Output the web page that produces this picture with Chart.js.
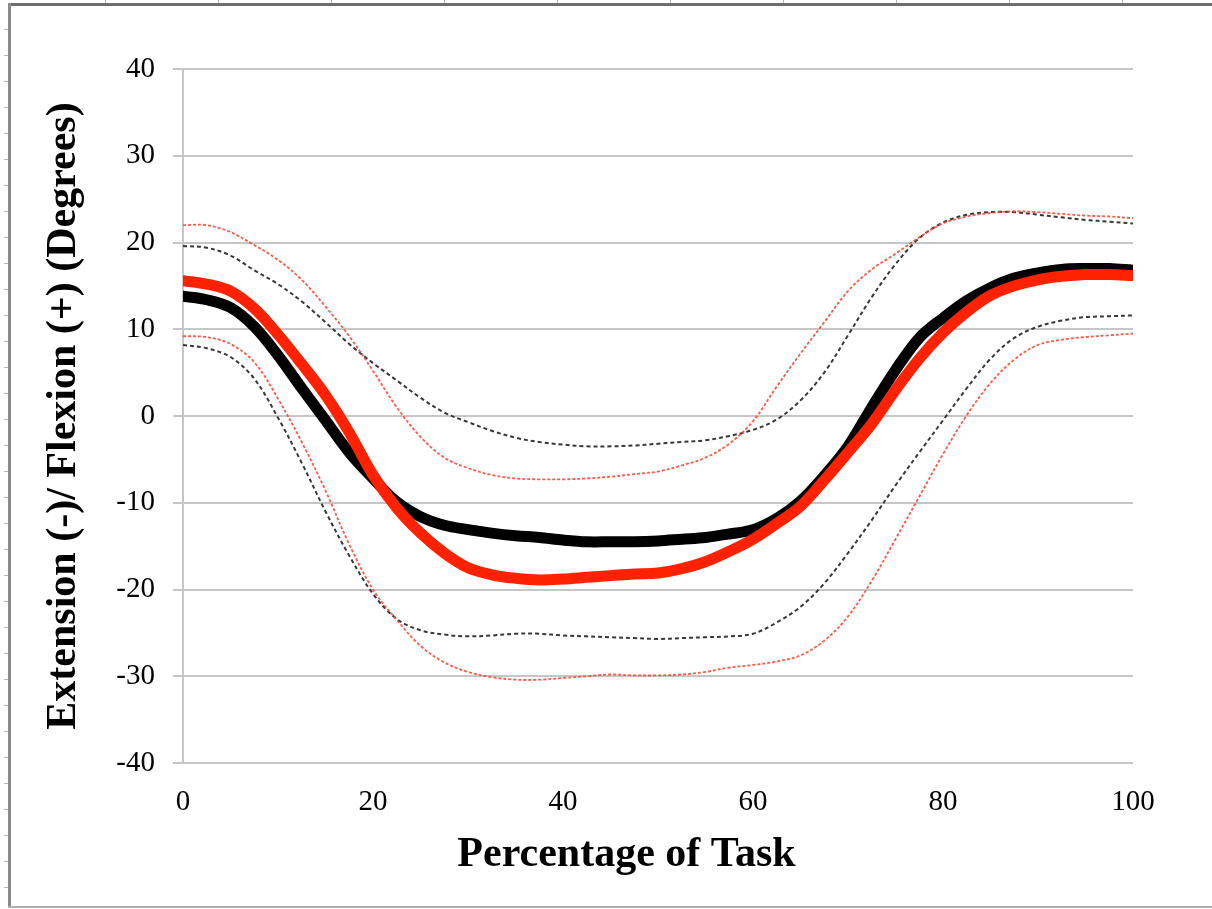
<!DOCTYPE html>
<html>
<head>
<meta charset="utf-8">
<script src="https://cdn.jsdelivr.net/npm/chart.js@4.4.1/dist/chart.umd.min.js"></script>
<style>
  html, body { margin: 0; padding: 0; background: #ffffff; }
  #wrap { width: 1212px; height: 909px; position: relative; }
</style>
</head>
<body>
<div id="wrap"><canvas id="c" width="1212" height="909"></canvas></div>
<script>
// Percentage of task (x values)
const pct = [0,2.5,5,7.5,10,12.5,15,17.5,20,22.5,25,27.5,30,32.5,35,37.5,40,42.5,45,47.5,50,
             52.5,55,57.5,60,62.5,65,67.5,70,72.5,75,77.5,80,82.5,85,87.5,90,92.5,95,97.5,100];

// Mean (black)
const blackMean = [13.8,13.4,12.5,10.3,7.0,3.2,-0.5,-4.2,-7.2,-9.9,-11.6,-12.6,-13.1,-13.5,-13.8,-14.0,-14.3,-14.5,-14.5,-14.5,-14.4,
                   -14.2,-14.0,-13.6,-13.1,-11.8,-9.8,-6.9,-3.5,1.0,5.3,9.0,11.3,13.3,14.8,15.9,16.5,16.9,17.0,17.0,16.8];
// Mean (red)
const redMean = [15.6,15.2,14.4,12.4,9.4,6.0,2.4,-1.9,-6.8,-10.6,-13.5,-15.8,-17.5,-18.3,-18.7,-18.9,-18.8,-18.6,-18.4,-18.2,-18.1,
                 -17.6,-16.8,-15.6,-14.2,-12.4,-10.4,-7.4,-4.2,-0.9,3.0,6.6,9.6,12.0,13.9,15.0,15.7,16.1,16.3,16.3,16.2];
// Upper bound (red dashed)
const redUpper = [22.0,22.0,21.2,19.7,18.0,15.7,12.6,9.2,5.2,1.0,-2.4,-4.8,-6.0,-6.8,-7.2,-7.3,-7.3,-7.2,-7.0,-6.7,-6.4,
                  -5.7,-4.8,-3.2,-0.6,3.4,7.2,10.8,14.4,16.9,18.7,20.6,22.2,23.0,23.4,23.6,23.5,23.3,23.1,23.0,22.8];
// Upper bound (black dashed)
const blackUpper = [19.6,19.4,18.5,16.8,15.2,13.2,10.8,8.3,6.1,4.1,2.1,0.4,-0.7,-1.7,-2.5,-3.0,-3.3,-3.5,-3.5,-3.4,-3.2,
                    -3.0,-2.8,-2.3,-1.6,-0.4,1.8,5.0,9.3,13.7,17.5,20.5,22.3,23.2,23.5,23.5,23.2,22.9,22.6,22.4,22.2];
// Lower bound (red dashed)
const redLower = [9.2,9.1,8.3,6.2,2.0,-3.0,-8.6,-14.8,-20.0,-23.5,-26.5,-28.4,-29.5,-30.1,-30.4,-30.4,-30.2,-30.0,-29.8,-29.9,-29.9,
                  -29.8,-29.5,-29.0,-28.7,-28.3,-27.6,-25.9,-23.1,-19.0,-14.2,-9.3,-4.4,0.1,3.8,6.5,8.2,8.8,9.1,9.3,9.5];
// Lower bound (black dashed)
const blackLower = [8.2,7.8,6.8,4.3,-0.2,-5.4,-11.0,-16.1,-20.5,-23.4,-24.7,-25.2,-25.4,-25.3,-25.1,-25.1,-25.3,-25.4,-25.5,-25.6,-25.7,
                    -25.6,-25.5,-25.4,-25.1,-23.8,-22.0,-19.3,-15.8,-12.0,-8.0,-4.2,-0.5,3.2,6.6,9.0,10.3,11.0,11.4,11.5,11.6];

const xTitle = 'Percentage of Task';
const yTitle = 'Extension (-)/ Flexion (+) (Degrees)';

function pts(arr) { return arr.map((v, i) => ({ x: pct[i], y: v })); }

const frame = {
  id: 'frame',
  afterDraw(chart) {
    const ctx = chart.ctx;
    ctx.save();
    // ruler marks
    ctx.fillStyle = '#b5b5b5';
    for (let y = 29; y < 906; y += 26) ctx.fillRect(4, y, 4, 1);
    for (let x = 105; x < 1212; x += 113) ctx.fillRect(x, 0, 1, 3);
    // frame lines
    ctx.fillStyle = '#6e6e6e';
    ctx.fillRect(8, 3, 1204, 3);
    ctx.fillStyle = '#8a8a8a';
    ctx.fillRect(8, 3, 3, 905);
    ctx.fillStyle = '#b0b0b0';
    ctx.fillRect(8, 906, 1204, 2);
    ctx.restore();
  }
};

const serif = '"Liberation Serif", "Times New Roman", serif';

new Chart(document.getElementById('c'), {
  type: 'line',
  data: {
    datasets: [
      { data: pts(redUpper), borderColor: 'rgba(255,70,50,0.9)', borderWidth: 1.8, borderDash: [3, 2], pointRadius: 0, tension: 0.35, fill: false },
      { data: pts(redLower), borderColor: 'rgba(255,70,50,0.9)', borderWidth: 1.8, borderDash: [3, 2], pointRadius: 0, tension: 0.35, fill: false },
      { data: pts(blackUpper), borderColor: '#383838', borderWidth: 2, borderDash: [4, 3], pointRadius: 0, tension: 0.35, fill: false },
      { data: pts(blackLower), borderColor: '#383838', borderWidth: 2, borderDash: [4, 3], pointRadius: 0, tension: 0.35, fill: false },
      { data: pts(redMean), borderColor: '#ff2200', borderWidth: 11, pointRadius: 0, tension: 0.35, fill: false, borderCapStyle: 'round', borderJoinStyle: 'round' },
      { data: pts(blackMean), borderColor: '#000000', borderWidth: 11, pointRadius: 0, tension: 0.35, fill: false, borderCapStyle: 'round', borderJoinStyle: 'round' }
    ]
  },
  options: {
    responsive: false,
    animation: false,
    devicePixelRatio: 1,
    layout: { padding: { left: 0, top: 69, right: 79, bottom: 0 } },
    plugins: { legend: { display: false }, tooltip: { enabled: false } },
    scales: {
      x: {
        type: 'linear', min: 0, max: 100,
        ticks: { stepSize: 20, padding: 22, color: '#000', font: { family: serif, size: 29 } },
        grid: { display: false, drawTicks: false },
        border: { display: false },
        title: { display: true, text: xTitle + '\u00A0\u00A0\u00A0\u00A0\u00A0\u00A0', color: '#000', font: { family: serif, size: 42, weight: 'bold' }, padding: { top: 0, bottom: 29 } },
        afterFit(s) { s.height = 146; }
      },
      y: {
        type: 'linear', min: -40, max: 40,
        ticks: { stepSize: 10, padding: 18, color: '#000', font: { family: serif, size: 29 } },
        grid: { color: '#c6c6c6', lineWidth: 2, drawTicks: true, tickLength: 10 },
        border: { display: true, color: '#c6c6c6', width: 2 },
        title: { display: true, text: yTitle, color: '#000', font: { family: serif, size: 42, weight: 'bold' }, padding: { top: 39, bottom: 0 } },
        afterFit(s) { s.width = 183; }
      }
    }
  },
  plugins: [frame]
});
</script>
</body>
</html>
